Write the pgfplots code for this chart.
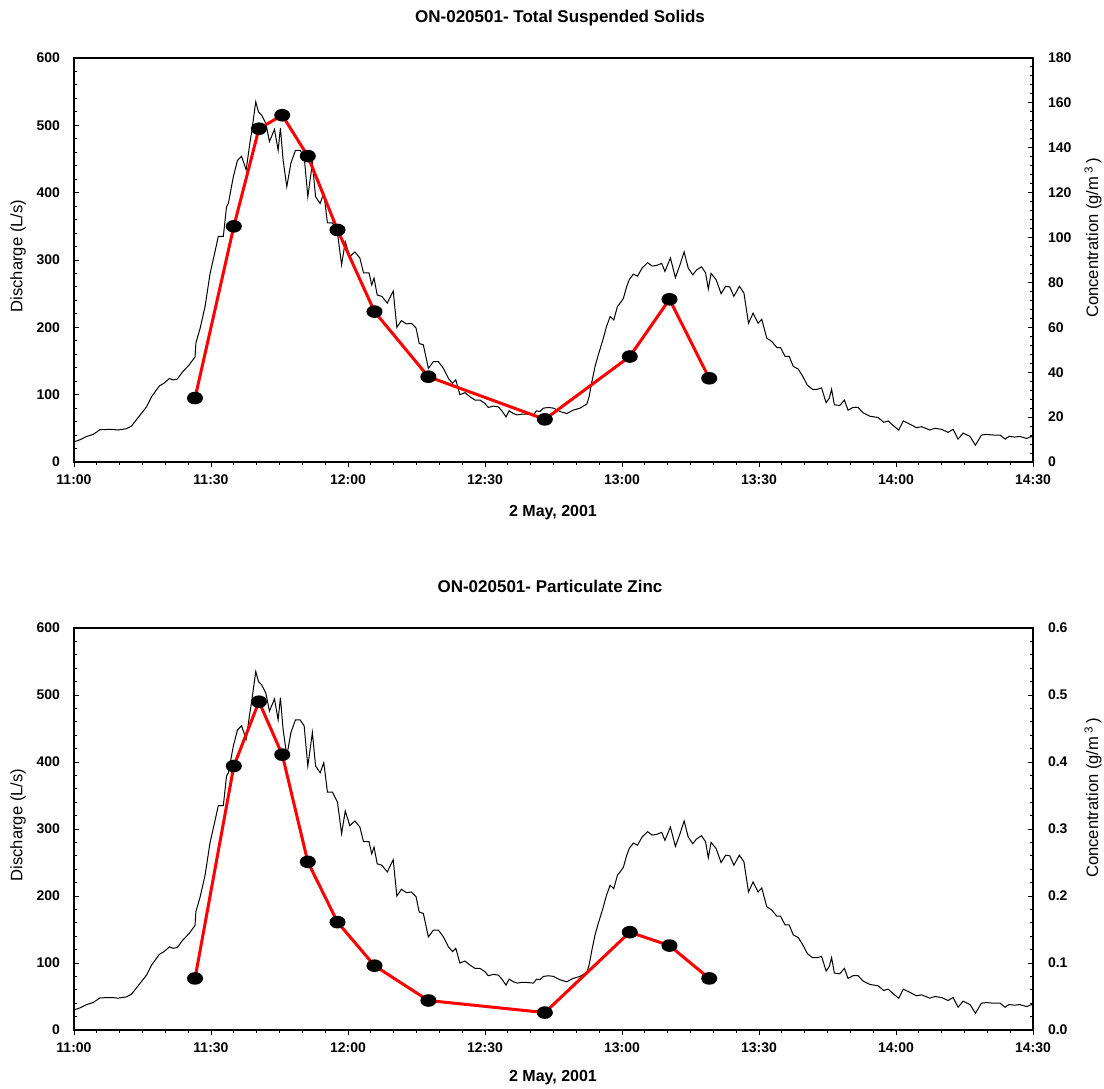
\documentclass[border=0pt]{standalone}
\usepackage{fontspec}
\setmainfont{Liberation Sans}
\usepackage{pgfplots}
\pgfplotsset{compat=1.18}

% discharge, minutes after 11:00 (same record in both panels)
\pgfplotstableread{
t Q
0.0 30
1.3 33
2.8 38
4.2 41
5.7 48
8.3 48.5
9.7 47.5
11.5 49.5
12.6 53.5
14.5 70
15.9 82
17.0 97
18.7 113
19.7 117
20.9 124
21.7 122
22.6 123
23.8 134
25.2 144
26.5 156
26.7 177
27.6 198
28.7 231
29.8 280
30.7 307
31.6 335
32.7 335
33.4 379
33.8 384
34.9 424
35.8 448
36.7 454
37.7 434
38.5 473
38.9 490
39.8 535
40.4 520
41.1 515
42.0 503
42.8 476
43.9 494
44.7 463
45.2 496
45.8 448
46.6 409
47.5 444
48.5 463
49.5 463
50.4 454
51.2 394
52.2 444
52.9 394
53.9 384
54.7 399
55.5 355
56.6 355
57.7 340
58.6 293
59.4 327
60.4 305
61.5 312
62.6 303
63.4 281
64.6 281
65.2 263
65.7 273
66.4 248
67.4 246
68.6 236
69.9 254
70.7 200
71.7 210
72.8 205
73.9 206
74.9 199
75.6 176
76.5 174
77.6 139
78.7 149
79.8 149
80.9 139
82.0 124
82.9 117
83.6 122
84.5 100
85.6 103
86.7 97
87.8 92
88.9 92
90.0 87
90.7 81
91.8 83
92.9 82
93.7 76
94.6 67
95.3 76
96.2 72
97.1 70
98.0 71
99.1 71
100.6 70
101.3 76
102.0 75
102.8 80
103.9 81
105.0 80
106.4 75
107.9 72
109.3 77
110.8 80
112.3 86
112.8 97
113.4 119
114.1 142
114.8 159
115.8 181
116.6 201
117.4 216
118.2 211
119.0 231
119.7 237
120.3 243
121.0 260
121.6 271
122.5 279
123.4 276
124.4 288
125.6 296
126.6 291
127.6 292
128.7 295
129.4 283
130.6 303
131.7 274
132.7 293
133.6 312
134.5 288
135.5 278
136.3 285
137.4 290
138.3 281
138.9 257
139.5 280
140.6 271
141.7 250
142.7 261
143.6 260
144.5 246
145.7 261
146.7 251
147.7 206
148.7 221
149.8 206
150.6 212
151.7 184
152.8 179
153.9 170
154.7 170
155.7 157
156.6 157
157.5 142
158.6 138
159.6 127
160.6 114
161.7 108
162.8 108
163.7 110
164.7 88
165.4 95
165.9 108
166.5 85
167.7 84
168.7 92
169.5 77
170.6 81
171.7 81
172.8 73
174.3 68
176.1 66
177.3 59
178.3 61
179.4 54
180.6 47.5
181.6 61
183.1 56
184.5 51
185.6 52.5
187.4 47.5
188.5 50
190.0 48.5
191.4 44
192.5 48.5
193.6 34
194.7 43
196.2 38
197.4 25
198.7 40
199.8 41
201.3 40
202.8 40
203.9 34
204.7 38
206.0 37
207.1 38
208.6 35
209.7 38
210.0 37
}\discharge

% grab samples: TSS (g/m3) and particulate zinc (g/m3)
\pgfplotstableread{
t tss zn
26.5 28.5 0.077
35.0 105 0.394
40.5 148.5 0.490
45.6 154.5 0.411
51.2 136.3 0.251
57.7 103.4 0.161
65.8 67 0.096
77.6 38 0.044
103.1 19 0.026
121.7 47 0.146
130.4 72.5 0.126
139.1 37.3 0.077
}\samples

\pgfplotsset{
  base/.style={scale only axis, width=479.5pt, xmin=0, xmax=210,
    axis line style={line width=1.1pt}, tick style={black, line width=.5pt},
    major tick length=2.5pt, minor tick length=1.5pt,
    tick label style={font=\fontsize{7}{8}\selectfont\bfseries},
    /pgf/number format/assume math mode=true},
  lefty/.style={base, ymin=0, ymax=600, ytick={0,100,...,600}, minor y tick num=4,
    xtick=\empty, ytick pos=left, tick align=inside,
    yticklabel style={xshift=-3.5pt}},
  timex/.style={base, axis x line*=bottom, axis y line=none, ymin=0, ymax=1,
    tick align=outside, xtick={0,30,...,210}, minor x tick num=5,
    xticklabels={11:00,11:30,12:00,12:30,13:00,13:30,14:00,14:30},
    xticklabel style={yshift=-0.5pt}},
  righty/.style={base, axis y line*=right, axis x line=none, tick align=inside,
    minor y tick num=4, yticklabel style={xshift=4pt}},
  conc/.style={red, line width=1.5pt, mark=*, mark size=2.4pt,
    mark options={black, fill=black, xscale=1.35, solid}},
}

\begin{document}
\begin{tikzpicture}
\path[use as bounding box] (-37pt,-313pt) rectangle (515pt,231pt);

% ---- top panel: TSS
\begin{axis}[lefty, height=202pt, at={(0pt,0pt)}, anchor=south west]
\addplot[black, line width=.5pt] table[x=t, y=Q] {\discharge};
\end{axis}
\begin{axis}[timex, height=202pt, at={(0pt,0pt)}, anchor=south west]
\end{axis}
\begin{axis}[righty, height=202pt, at={(0pt,0pt)}, anchor=south west,
  ymin=0, ymax=180, ytick={0,20,...,180}]
\addplot[conc] table[x=t, y=tss] {\samples};
\end{axis}
\node[font=\fontsize{8.5}{10}\selectfont\bfseries] at (243pt,222pt) {ON-020501- Total Suspended Solids};
\node[font=\fontsize{8}{10}\selectfont\bfseries] at (239.5pt,-25.5pt) {2 May, 2001};
\node[rotate=90, font=\fontsize{8.3}{10}\selectfont] at (-28pt,103pt) {Discharge (L/s)};
\node[rotate=90, font=\fontsize{8.3}{10}\selectfont] at (509.5pt,112pt) {Concentration (g/m\,\textsuperscript{3}\,)};

% ---- bottom panel: particulate zinc
\begin{axis}[lefty, height=201pt, at={(0pt,-284pt)}, anchor=south west]
\addplot[black, line width=.5pt] table[x=t, y=Q] {\discharge};
\end{axis}
\begin{axis}[timex, height=201pt, at={(0pt,-284pt)}, anchor=south west]
\end{axis}
\begin{axis}[righty, height=201pt, at={(0pt,-284pt)}, anchor=south west,
  ymin=0, ymax=0.6, ytick={0,0.1,...,0.6},
  yticklabel style={/pgf/number format/.cd, fixed, fixed zerofill, precision=1}]
\addplot[conc] table[x=t, y=zn] {\samples};
\end{axis}
\node[font=\fontsize{8.5}{10}\selectfont\bfseries] at (238pt,-62pt) {ON-020501- Particulate Zinc};
\node[font=\fontsize{8}{10}\selectfont\bfseries] at (239.5pt,-308pt) {2 May, 2001};
\node[rotate=90, font=\fontsize{8.3}{10}\selectfont] at (-28pt,-181.5pt) {Discharge (L/s)};
\node[rotate=90, font=\fontsize{8.3}{10}\selectfont] at (509.5pt,-168pt) {Concentration (g/m\,\textsuperscript{3}\,)};
\end{tikzpicture}
\end{document}
